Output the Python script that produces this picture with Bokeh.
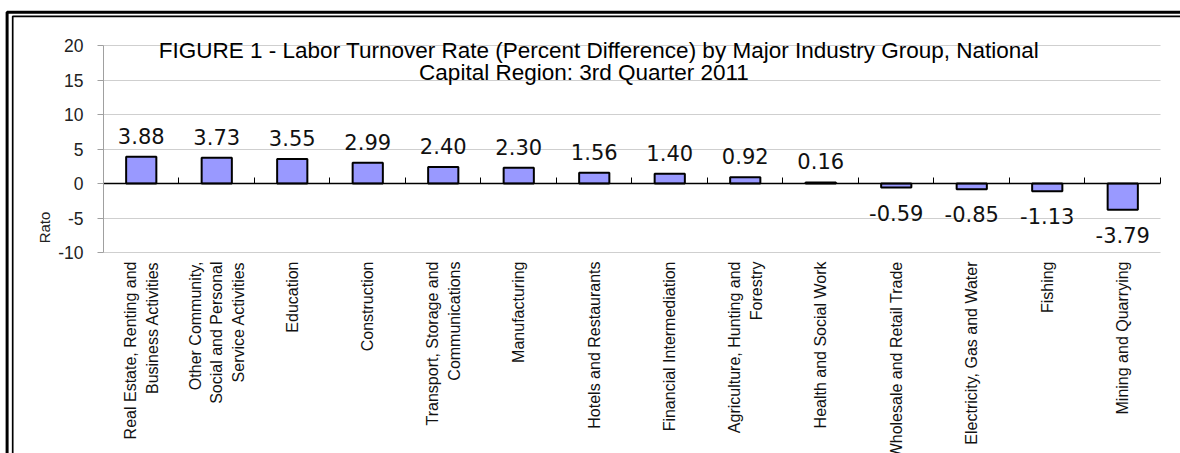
import math
from bokeh.plotting import figure
from bokeh.models import (ColumnDataSource, FixedTicker, Range1d, LinearAxis, Grid,
                          BoxAnnotation)
from bokeh.core.properties import value
from bokeh.embed import file_html
from bokeh.resources import INLINE

categories = [
    "Real Estate, Renting and\nBusiness Activities",
    "Other Community,\nSocial and Personal\nService Activities",
    "Education",
    "Construction",
    "Transport, Storage and\nCommunications",
    "Manufacturing",
    "Hotels and Restaurants",
    "Financial Intermediation",
    "Agriculture, Hunting and\nForestry",
    "Health and Social Work",
    "Wholesale and Retail Trade",
    "Electricity, Gas and Water",
    "Fishing",
    "Mining and Quarrying",
]
values = [3.88, 3.73, 3.55, 2.99, 2.40, 2.30, 1.56, 1.40, 0.92, 0.16, -0.59, -0.85, -1.13, -3.79]
y_ticks = [-10, -5, 0, 5, 10, 15, 20]
title_line1 = "FIGURE 1 - Labor Turnover Rate (Percent Difference) by Major Industry Group, National"
title_line2 = "Capital Region: 3rd Quarter 2011"
y_title = "Rato"

n = len(categories)
xs = [i + 0.5 for i in range(n)]
bounds_x = list(range(n + 1))
labels = [f"{v:.2f}" for v in values]
y_lo, y_hi = min(y_ticks), max(y_ticks)

src = ColumnDataSource(dict(x=xs, top=values))
pos = ColumnDataSource(dict(x=[x for x, v in zip(xs, values) if v >= 0],
                            y=[v for v in values if v >= 0],
                            lab=[l for l, v in zip(labels, values) if v >= 0]))
neg = ColumnDataSource(dict(x=[x for x, v in zip(xs, values) if v < 0],
                            y=[v for v in values if v < 0],
                            lab=[l for l, v in zip(labels, values) if v < 0]))
cat_src = ColumnDataSource(dict(x=xs, y=[y_lo] * n, name=categories))

# The frame fills the whole canvas; axes are drawn at fixed data locations.
p = figure(width=1180, height=453, output_backend="svg", toolbar_location=None,
           x_range=Range1d(-1.3642, 14.2649), y_range=Range1d(-39.130, 26.522),
           x_axis_location=None, y_axis_location=None,
           min_border_left=0, min_border_top=0, min_border_right=0, min_border_bottom=0)
p.outline_line_color = None
p.background_fill_color = "white"
p.border_fill_color = "white"
p.xgrid.visible = False
p.ygrid.visible = False

# horizontal gridlines over the category span only
if "cross_bounds" in Grid.properties():
    grid = Grid(dimension=1, ticker=FixedTicker(ticks=y_ticks), cross_bounds=(0, n),
                grid_line_color="#cfcfcf", grid_line_width=1)
    p.add_layout(grid, "center")
else:
    p.segment(x0=[0] * len(y_ticks), x1=[n] * len(y_ticks), y0=y_ticks, y1=y_ticks,
              line_color="#cfcfcf", line_width=1)

# value axis
yaxis = LinearAxis(fixed_location=0, ticker=FixedTicker(ticks=y_ticks), bounds=(y_lo, y_hi),
                   major_label_overrides={t: str(t) for t in y_ticks},
                   axis_line_color="#a0a0a0", major_tick_line_color="#a0a0a0",
                   major_tick_out=6, major_tick_in=0, minor_tick_line_color=None,
                   major_label_standoff=14, major_label_text_font="Liberation Sans",
                   major_label_text_font_size="17.5px", major_label_text_color="#222222")
p.add_layout(yaxis, "left")

# category axis line at zero with boundary tick marks
xaxis = LinearAxis(fixed_location=0, ticker=FixedTicker(ticks=bounds_x), bounds=(0, n),
                   major_label_overrides={b: "" for b in bounds_x},
                   axis_line_color="black", axis_line_width=1.5,
                   major_tick_line_color="black", major_tick_in=6, major_tick_out=0,
                   minor_tick_line_color=None)
p.add_layout(xaxis, "below")

# bars
p.vbar(x="x", top="top", bottom=0, width=0.4, source=src,
       fill_color="#9999ff", line_color="black", line_width=2)

# value labels
p.text(x="x", y="y", text="lab", source=pos, text_align="center", text_baseline="bottom",
       y_offset=-13, text_font=value("DejaVu Sans"), text_font_size="21px", text_color="#111111")
p.text(x="x", y="y", text="lab", source=neg, text_align="center", text_baseline="top",
       y_offset=17, text_font=value("DejaVu Sans"), text_font_size="21px", text_color="#111111")

# category labels (rotated, below the value range)
p.text(x="x", y="y", text="name", source=cat_src, angle=math.pi / 2,
       text_align="right", text_baseline="middle", y_offset=9,
       text_font=value("Liberation Sans"), text_font_size="16px", text_color="#111111",
       text_line_height=1.27)

# value-axis title
p.text(x=[0], y=[y_lo], text=[y_title], angle=math.pi / 2, x_offset=-59, y_offset=-25,
       text_align="center", text_baseline="middle",
       text_font=value("Liberation Sans"), text_font_size="15px", text_color="#222222")

# title inside plot area
p.text(x=[n / 2], y=[y_hi], text=[title_line1], x_offset=-33, y_offset=5,
       text_align="center", text_baseline="alphabetic",
       text_font=value("Liberation Sans"), text_font_size="22.5px", text_color="black")
p.text(x=[n / 2], y=[y_hi], text=[title_line2], x_offset=-48, y_offset=27,
       text_align="center", text_baseline="alphabetic",
       text_font=value("Liberation Sans"), text_font_size="22.5px", text_color="black")

# double frame line around the chart (right and bottom edges lie outside the view)
for left, top, w in ((6.6, 11.7, 3), (12.2, 15.8, 1.7)):
    p.add_layout(BoxAnnotation(left=left, right=1400, top=top, bottom=700,
                               left_units="canvas", right_units="canvas",
                               top_units="canvas", bottom_units="canvas",
                               fill_color=None, fill_alpha=0, line_color="black",
                               line_alpha=1.0, line_width=w, level="overlay"))

open("out.html", "w").write(file_html(p, INLINE))
